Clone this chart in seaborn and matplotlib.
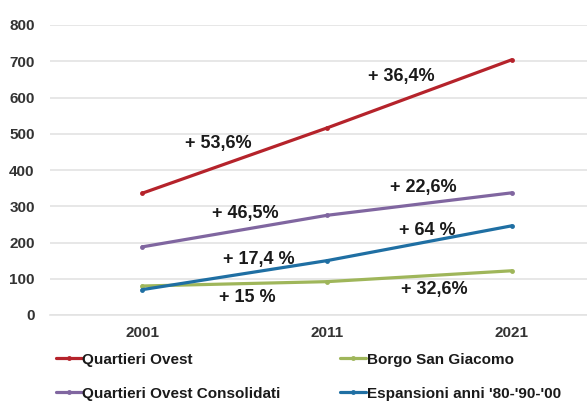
import matplotlib
matplotlib.use("Agg")
import matplotlib.pyplot as plt
import seaborn as sns
import pandas as pd

years = ["2001", "2011", "2021"]
series_names = ["Quartieri Ovest", "Borgo San Giacomo",
                "Quartieri Ovest Consolidati", "Espansioni anni '80-'90-'00"]
quartieri_ovest = [336, 516, 704]
borgo_san_giacomo = [80, 92, 122]
quartieri_consolidati = [188, 275, 337]
espansioni = [70, 150, 246]
colors = ["#B5232B", "#9FB65A", "#8066A0", "#1F6FA3"]

labels_text = ["+ 53,6%", "+ 36,4%", "+ 46,5%", "+ 22,6%",
               "+ 17,4 %", "+ 64 %", "+ 15 %", "+ 32,6%"]
labels_x = [0.41, 1.40, 0.56, 1.52, 0.63, 1.545, 0.57, 1.58]
labels_y = [474, 657, 281, 353, 152, 234, 47, 69]

values = [quartieri_ovest, borgo_san_giacomo, quartieri_consolidati, espansioni]
rows = []
for name, vals in zip(series_names, values):
    for i, (yr, v) in enumerate(zip(years, vals)):
        rows.append({"pos": i, "Anno": yr, "Valore": v, "Serie": name})
df = pd.DataFrame(rows)

sns.set_theme(style="white")
plt.rcParams["font.family"] = ["Liberation Sans", "DejaVu Sans"]

fig = plt.figure(figsize=(5.87, 4.01), dpi=100)
ax = fig.add_axes([50 / 587, (401 - 315) / 401, 554 / 587, 290 / 401])

sns.lineplot(data=df, x="pos", y="Valore", hue="Serie", hue_order=series_names,
             palette=colors, linewidth=2.3, marker="o", markersize=3.5,
             markeredgewidth=0, ax=ax, legend=True)

ax.set_xlim(-0.5, 2.5)
ax.set_ylim(0, 800)
ax.set_yticks(range(0, 801, 100))
ax.set_xticks(range(len(years)))
ax.set_xticklabels(years)
ax.set_xlabel("")
ax.set_ylabel("")
ax.grid(axis="y", color="#E3E3E3", linewidth=1.2)
ax.grid(axis="x", visible=False)
for s in ["top", "right", "left"]:
    ax.spines[s].set_visible(False)
ax.spines["bottom"].set_color("#E3E3E3")
ax.spines["bottom"].set_linewidth(1.2)
ax.tick_params(axis="both", length=0, labelsize=11, colors="#333333")
ax.tick_params(axis="x", pad=8)
ax.tick_params(axis="y", pad=11)
for t in ax.get_xticklabels() + ax.get_yticklabels():
    t.set_fontweight("bold")

for t, x, y in zip(labels_text, labels_x, labels_y):
    ax.text(x, y, t, ha="center", va="center", fontsize=13,
            fontweight="bold", color="#1a1a1a")

handles, labs = ax.get_legend_handles_labels()
ax.get_legend().remove()
order = [0, 2, 1, 3]
leg = fig.legend([handles[i] for i in order], [labs[i] for i in order],
                 ncol=2, loc="upper left", bbox_to_anchor=(42 / 587, 1 - 339 / 401),
                 frameon=False, handlelength=1.7, handletextpad=0.05,
                 columnspacing=3.9, labelspacing=1.3,
                 prop={"weight": "bold", "size": 11})
for t in leg.get_texts():
    t.set_color("#1a1a1a")

fig.savefig("out.png", dpi=100)
